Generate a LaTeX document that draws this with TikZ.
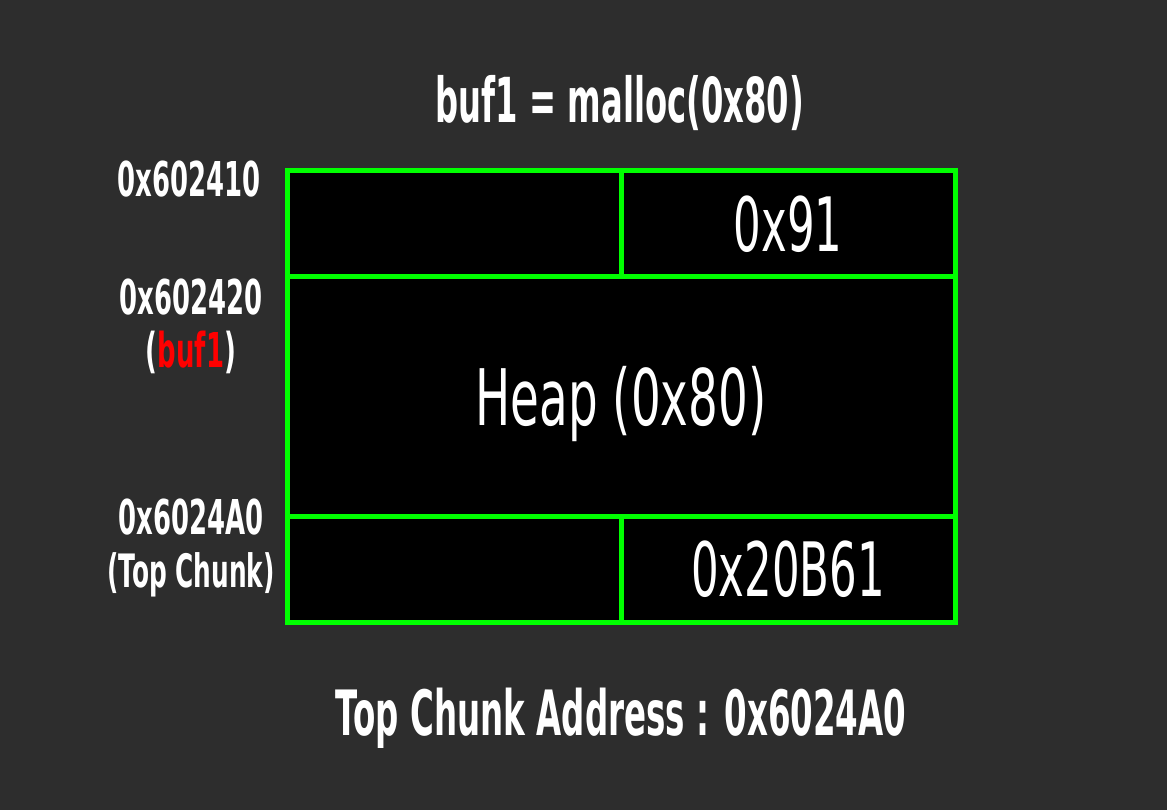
\documentclass[tikz,border=0pt]{standalone}
\usepackage{fontspec}
\usepackage{xcolor}
\usetikzlibrary{positioning}
\newfontfamily\boldcond{DejaVu Sans Bold}[FakeStretch=0.52]
\newfontfamily\addrcond{DejaVu Sans Bold}[FakeStretch=0.54]
\newfontfamily\thincond{DejaVu Sans}[FakeStretch=0.58]
\newfontfamily\heapcond{DejaVu Sans}[FakeStretch=0.6]
\definecolor{bgray}{HTML}{2D2D2D}
\definecolor{chunkgreen}{HTML}{00FF00}
\definecolor{bufred}{HTML}{FF0000}

\begin{document}
\begin{tikzpicture}[x=1pt,y=-1pt,node distance=0pt]
            \tikzset{cell/.style={draw=chunkgreen, fill=black, line width=5pt, outer sep=0pt, inner sep=0pt, text=white, text depth=0pt, text height=55pt, font=\thincond\fontsize{75}{80}\selectfont},
                     addr/.style={text=white, align=center, inner sep=0pt, font=\addrcond\fontsize{48}{53}\selectfont},
                     caption/.style={text=white, inner sep=0pt, anchor=base, font=\boldcond\fontsize{62}{66}\selectfont}}
            \fill[bgray] (0,0) rectangle (1167,810);
            \node[cell, minimum width=668pt, minimum height=239pt, text height=57pt, font=\heapcond\fontsize{78}{80}\selectfont] (heap) at (621,396.5) {Heap (0x80)};
            \node[cell, minimum width=334pt, minimum height=106pt, above right=of heap.north west] (sizeL) {};
            \node[cell, minimum width=334pt, minimum height=106pt, above left=of heap.north east] (sizeR) {0x91};
            \node[cell, minimum width=334pt, minimum height=106pt, below right=of heap.south west] (topL) {};
            \node[cell, minimum width=334pt, minimum height=106pt, below left=of heap.south east] (topR) {0x20B61};
            \node[caption] (title) at (620,123) {buf1 = malloc(0x80)};
            \node[caption, font=\boldcond\fontsize{62.5}{66}\selectfont] (topaddr) at (621,735) {Top Chunk Address : 0x6024A0};
            \node[addr, anchor=north east] (addrA) at (261,161) {0x602410};
            \node[addr, anchor=north] (addrB) at (191,279) {0x602420\\(\textcolor{bufred}{buf1})};
            \node[addr, anchor=north] (addrC) at (191,499) {0x6024A0\\{\fontsize{46}{53}\selectfont(Top Chunk)}};
          \end{tikzpicture}
\end{document}
